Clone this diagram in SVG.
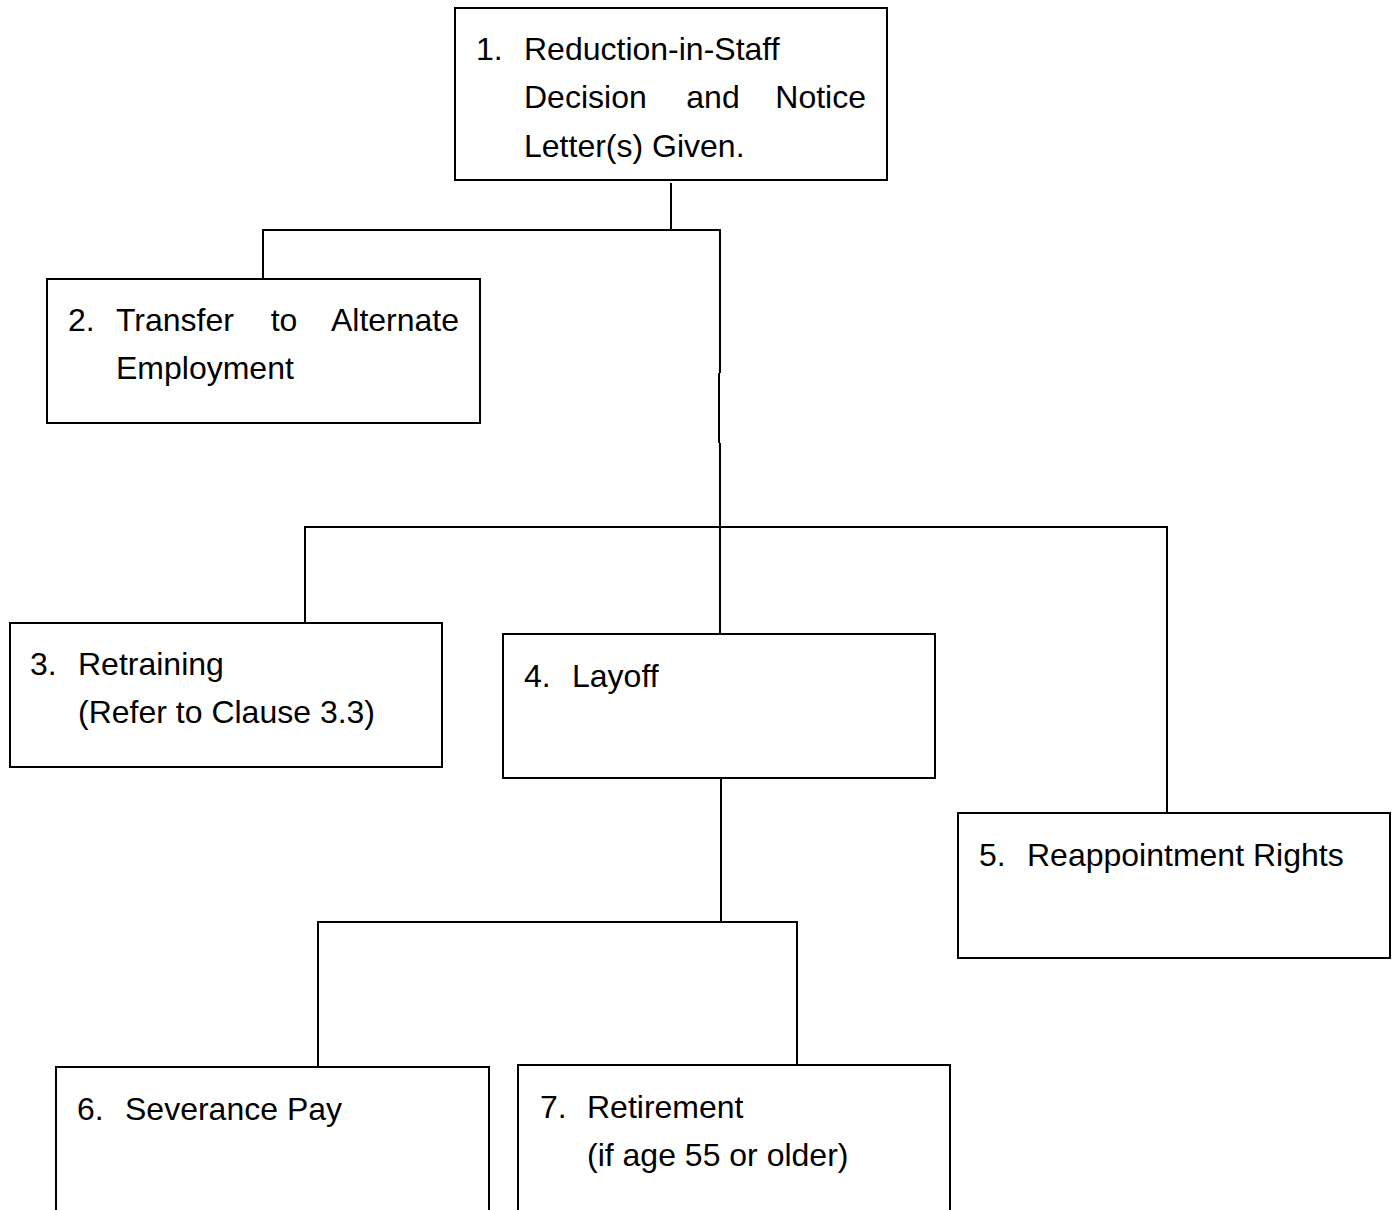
<svg xmlns="http://www.w3.org/2000/svg" width="1397" height="1210" viewBox="0 0 1397 1210">
<style>
.box{fill:#fff;stroke:#000;stroke-width:2}
.ln{fill:none;stroke:#000;stroke-width:2}
text{font-family:"Liberation Sans",Arial,sans-serif;font-size:32px;fill:#000}
.e{text-anchor:end}
.m{text-anchor:middle}
</style>
<rect width="1397" height="1210" fill="#fff"/>
<g id="connectors">
<path class="ln" d="M671,183 V230"/>
<path class="ln" d="M263,279 V230 H720 V373 M719,373 V443 M720,443 V634"/>
<path class="ln" d="M305,623 V527 H1167 V813"/>
<path class="ln" d="M721,778 V922"/>
<path class="ln" d="M318,1067 V922 H797 V1065"/>
</g>
<g id="node1">
<rect class="box" x="455" y="8" width="432" height="172"/>
<text x="476" y="60">1.</text>
<text x="524" y="60">Reduction-in-Staff</text>
<text x="524" y="108">Decision</text>
<text class="m" x="713" y="108">and</text>
<text class="e" x="866" y="108">Notice</text>
<text x="524" y="157">Letter(s) Given.</text>
</g>
<g id="node2">
<rect class="box" x="47" y="279" width="433" height="144"/>
<text x="68" y="331">2.</text>
<text x="116" y="331">Transfer</text>
<text class="m" x="284" y="331">to</text>
<text class="e" x="459" y="331">Alternate</text>
<text x="116" y="379">Employment</text>
</g>
<g id="node3">
<rect class="box" x="10" y="623" width="432" height="144"/>
<text x="30" y="675">3.</text>
<text x="78" y="675">Retraining</text>
<text x="78" y="723">(Refer to Clause 3.3)</text>
</g>
<g id="node4">
<rect class="box" x="503" y="634" width="432" height="144"/>
<text x="524" y="687">4.</text>
<text x="572" y="687">Layoff</text>
</g>
<g id="node5">
<rect class="box" x="958" y="813" width="432" height="145"/>
<text x="979" y="866">5.</text>
<text x="1027" y="866">Reappointment Rights</text>
</g>
<g id="node6">
<rect class="box" x="56" y="1067" width="433" height="160"/>
<text x="77" y="1120">6.</text>
<text x="125" y="1120">Severance Pay</text>
</g>
<g id="node7">
<rect class="box" x="518" y="1065" width="432" height="160"/>
<text x="540" y="1118">7.</text>
<text x="587" y="1118">Retirement</text>
<text x="587" y="1166">(if age 55 or older)</text>
</g>
</svg>
